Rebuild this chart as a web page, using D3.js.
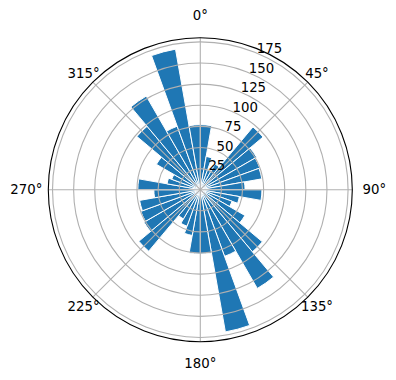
<!DOCTYPE html>
<head>
    <meta charset="utf-8">
    <style>
        body { margin: 0; background: #fff; }
        text { font-family: "DejaVu Sans", sans-serif; font-size: 13.3px; fill: #000; }
        .grid { fill: none; stroke: #b0b0b0; stroke-width: 1.1px; }
        .frame { fill: none; stroke: #000; stroke-width: 1.1px; }
        .bar { fill: #1f77b4; stroke: #fff; stroke-width: 1px; }
    </style>
</head>

<body>
    <script src="https://d3js.org/d3.v7.min.js"></script>

    <script>
        // bin centres (degrees, clockwise from north) and bar heights
        var directions = [5, 15, 25, 35, 45, 55, 65, 75, 85,
                          95, 105, 115, 125, 135, 145, 155, 165, 175,
                          185, 195, 205, 215, 225, 235, 245, 255, 265,
                          275, 285, 295, 305, 315, 325, 335, 345, 355];
        var counts = [77, 40, 25, 35, 97, 77, 75, 74, 53,
                      73, 47, 40, 61, 96, 135, 84, 171, 76,
                      76, 55, 46, 40, 95, 77, 75, 73, 55,
                      74, 40, 36, 60, 98, 128, 80, 169, 77];
        var radialTicks = [25, 50, 75, 100, 125, 150, 175];
        var angleTicks = [0, 45, 90, 135, 180, 225, 270, 315];
        var angleLabels = ["0°", "45°", "90°", "135°", "180°", "225°", "270°", "315°"];

        var width = 396,
            height = 380,
            cx = 200.3,
            cy = 189.7,
            R = 152,
            binWidth = 10,
            rMax = 180;

        var rad = function(a) { return a * Math.PI / 180; };

        var r = d3.scaleLinear().domain([0, rMax]).range([0, R]);

        var svg = d3.select("body").append("svg")
            .attr("width", width)
            .attr("height", height)
            .append("g")
            .attr("transform", "translate(" + cx + "," + cy + ")");

        // bars
        var arc = d3.arc()
            .innerRadius(0)
            .outerRadius(function(d) { return r(d.v); })
            .startAngle(function(d) { return rad(d.a - binWidth / 2); })
            .endAngle(function(d) { return rad(d.a + binWidth / 2); });

        var bars = directions.map(function(a, i) { return {a: a, v: counts[i]}; });

        svg.selectAll(".bar")
            .data(bars)
            .enter().append("path")
            .attr("class", "bar")
            .attr("d", arc);

        // radial grid circles
        svg.selectAll(".rgrid")
            .data(radialTicks)
            .enter().append("circle")
            .attr("class", "grid")
            .attr("r", function(d) { return r(d); });

        // angular grid spokes
        svg.selectAll(".agrid")
            .data(angleTicks)
            .enter().append("line")
            .attr("class", "grid")
            .attr("x1", 0).attr("y1", 0)
            .attr("x2", function(d) { return R * Math.sin(rad(d)); })
            .attr("y2", function(d) { return -R * Math.cos(rad(d)); });

        // outer frame
        svg.append("circle")
            .attr("class", "frame")
            .attr("r", R);

        // angle labels
        svg.selectAll(".alabel")
            .data(angleTicks)
            .enter().append("text")
            .attr("x", function(d) { return (169.5 + 4.5 * Math.cos(rad(4 * d))) * Math.sin(rad(d)); })
            .attr("y", function(d) { return -(169.5 + 4.5 * Math.cos(rad(4 * d))) * Math.cos(rad(d)); })
            .attr("text-anchor", "middle")
            .attr("dominant-baseline", "central")
            .text(function(d, i) { return angleLabels[i]; });

        // radial labels at 22.5 degrees
        svg.selectAll(".rlabel")
            .data(radialTicks)
            .enter().append("text")
            .attr("x", function(d) { return r(d) * Math.sin(rad(22.5)); })
            .attr("y", function(d) { return -r(d) * Math.cos(rad(22.5)); })
            .attr("text-anchor", "start")
            .text(function(d) { return d; });
    </script>
</body>
